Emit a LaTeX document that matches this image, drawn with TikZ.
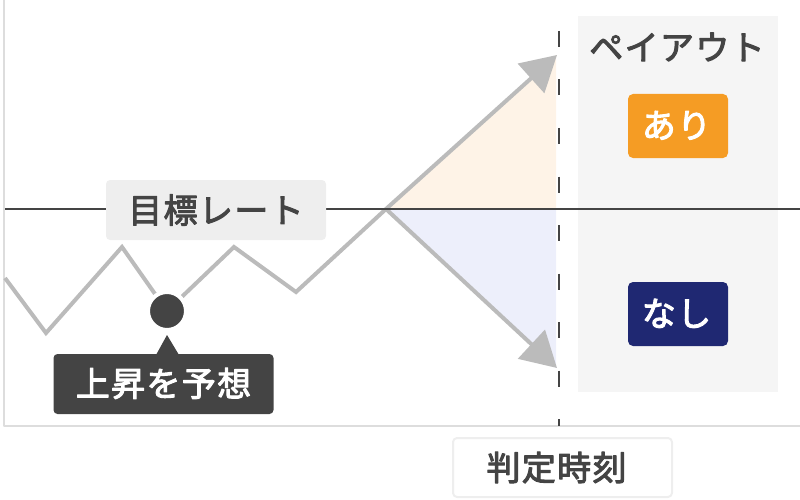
\documentclass[tikz,border=0pt]{standalone}
\usepackage{fontspec}
\usepackage{tikz}
\usetikzlibrary{arrows.meta}
\usetikzlibrary{positioning}
\setmainfont{Noto Sans CJK JP}[LetterSpace=4,FakeBold=3]
\definecolor{darkgray}{HTML}{444444}
\definecolor{linegray}{HTML}{BBBBBB}
\definecolor{axisgray}{HTML}{DDDDDD}
\definecolor{labelgray}{HTML}{EEEEEE}
\definecolor{panelgray}{HTML}{F5F5F5}
\definecolor{upfill}{HTML}{FEF3E7}
\definecolor{downfill}{HTML}{EDEFFB}
\definecolor{yesorange}{HTML}{F59C24}
\definecolor{nonavy}{HTML}{1F2872}
\tikzset{
  labelbox/.style={rounded corners=4pt,minimum width=220pt,minimum height=60pt,inner sep=0pt,font=\fontsize{34}{34}\selectfont,text=darkgray},
  badge/.style={rounded corners=5pt,minimum width=100pt,minimum height=64pt,inner sep=0pt,text=white,font=\fontsize{34}{34}\selectfont},
  price/.style={color=linegray,line width=4pt,line cap=butt,line join=miter},
  pricetip/.style={price,-{Triangle[length=35pt,width=39pt]}}
}
\begin{document}
\begin{tikzpicture}[line cap=round,line join=round,x=1pt,y=-1pt]
\useasboundingbox (0,0) rectangle (800,500);
\coordinate (p0) at (5,278);
\coordinate (p1) at (46,333);
\coordinate (p2) at (122,247);
\coordinate (p3) at (167,311);
\coordinate (p4) at (234,247);
\coordinate (p5) at (296,292);
\coordinate (p6) at (386,209);
\coordinate (upEnd) at (557,55);
\coordinate (downEnd) at (557,368);
\coordinate (targetL) at (5,209);
\coordinate (targetR) at (800,209);
\coordinate (judgeT) at (559,31);
\coordinate (judgeB) at (559,426);
\coordinate (axisT) at (4,0);
\coordinate (axisO) at (4,426);
\coordinate (axisR) at (800,426);
\fill [color=panelgray] (578,16) rectangle (778,392);
\fill [color=upfill] (p6) -- (556,55) -- (556,209) -- cycle;
\fill [color=downfill] (p6) -- (556,209) -- (556,368) -- cycle;
\draw [color=axisgray,line width=2pt,line cap=butt] (axisT) -- (axisO) -- (axisR);
\draw [color=darkgray,line width=2pt,line cap=butt,dash pattern=on 16pt off 32.5pt] (judgeT) -- (judgeB);
\draw [price] (p0) -- (p1) -- (p2) -- (p3) -- (p4) -- (p5) -- (p6);
\draw [pricetip] (p6) -- (upEnd);
\draw [pricetip] (p6) -- (downEnd);
\draw [color=darkgray,line width=2pt,line cap=butt] (targetL) -- (targetR);
\node [labelbox,fill=labelgray] (target) at (216,210) {目標レート};
\node [circle,fill=darkgray,draw=white,line width=4pt,minimum size=38pt,inner sep=0pt] (dot) at (p3) {};
\node [labelbox,fill=darkgray,text=white] (forecast) at (163.5,384) {\raisebox{4pt}{上昇を予想}};
\fill [color=darkgray,line join=miter] (156,355) -- (167,335) -- (179,355) -- cycle;
\node [labelbox,fill=white,draw=labelgray,line width=2pt,minimum width=219pt,minimum height=59pt] (judge) at (562.5,467.5) {\hspace{-12pt}判定時刻};
\node [font=\fontsize{34}{34}\selectfont,text=darkgray,inner sep=0pt] (payout) at (677,47) {ペイアウト};
\node [badge,fill=yesorange] (yes) at (678,126) {\hspace{-3pt}\raisebox{3pt}{あり}};
\node [badge,fill=nonavy] (no) at (678,314) {\hspace{-3pt}\raisebox{3pt}{なし}};
\end{tikzpicture}
\end{document}
